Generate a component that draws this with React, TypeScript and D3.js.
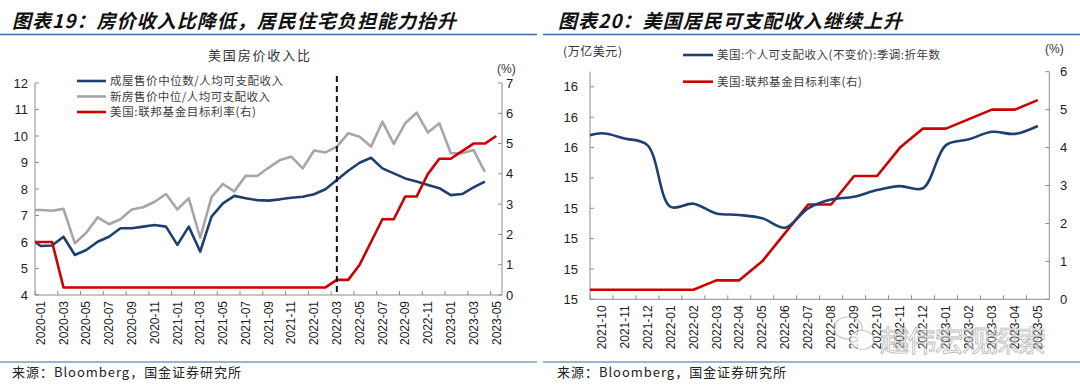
import * as React from 'react';
import * as d3 from 'd3';

const W = 1080;
const H = 385;

// Left chart: monthly 2020-01 .. 2023-05. Index 0 of each series is 2019-12,
// it sits left of the axis and is clipped away like in the source chart.
const leftMonths = d3
  .utcMonth.range(new Date(Date.UTC(2020, 0, 1)), new Date(Date.UTC(2023, 5, 1)))
  .map(d3.utcFormat('%Y-%m'));

const existingRatio = [6.15,
  5.85, 5.87, 6.2, 5.51, 5.70, 6.01, 6.2, 6.52, 6.52, 6.58,
  6.64, 6.58, 5.89, 6.58, 5.64, 6.96, 7.46, 7.74, 7.65, 7.58,
  7.56, 7.61, 7.67, 7.71, 7.80, 7.99, 8.34, 8.69, 8.99, 9.18,
  8.78, 8.59, 8.40, 8.28, 8.15, 8.03, 7.77, 7.81, 8.06, 8.28];

const newRatio = [7.2,
  7.21, 7.18, 7.25, 5.95, 6.35, 6.93, 6.67, 6.86, 7.23, 7.31,
  7.52, 7.81, 7.23, 7.65, 6.16, 7.69, 8.19, 7.91, 8.50, 8.49,
  8.80, 9.09, 9.22, 8.78, 9.45, 9.38, 9.60, 10.10, 9.97, 9.60,
  10.54, 9.70, 10.48, 10.88, 10.13, 10.48, 9.35, 9.35, 9.47, 8.65];

const fedRateLeft = [1.75,
  1.75, 1.75, 0.25, 0.25, 0.25, 0.25, 0.25, 0.25, 0.25, 0.25,
  0.25, 0.25, 0.25, 0.25, 0.25, 0.25, 0.25, 0.25, 0.25, 0.25,
  0.25, 0.25, 0.25, 0.25, 0.25, 0.25, 0.5, 0.5, 1.0, 1.75,
  2.5, 2.5, 3.25, 3.25, 4.0, 4.5, 4.5, 4.75, 5.0, 5.0, 5.25];

const leftTicksL = [4, 5, 6, 7, 8, 9, 10, 11, 12];
const leftTicksR = [0, 1, 2, 3, 4, 5, 6, 7];
const markMonth = '2022-03';

// Right chart: monthly 2021-10 .. 2023-05, index 0 is 2021-09 (clipped).
const rightMonths = d3
  .utcMonth.range(new Date(Date.UTC(2021, 9, 1)), new Date(Date.UTC(2023, 5, 1)))
  .map(d3.utcFormat('%Y-%m'));

const realIncome = [15.53,
  15.547, 15.530, 15.508, 15.305, 15.315, 15.283, 15.278, 15.267, 15.236, 15.300,
  15.329, 15.338, 15.360, 15.373, 15.366, 15.508, 15.527, 15.552, 15.545, 15.571];

const fedRateRight = [0.25,
  0.25, 0.25, 0.25, 0.25, 0.25, 0.5, 0.5, 1.0, 1.75, 2.5,
  2.5, 3.25, 3.25, 4.0, 4.5, 4.5, 4.75, 5.0, 5.0, 5.25];

const rightTicksL = [15.0, 15.1, 15.2, 15.3, 15.4, 15.5, 15.6, 15.7];
const rightTicksR = [0, 1, 2, 3, 4, 5, 6];

const BLUE = '#1f3f6e';
const GRAY = '#a6a6a6';
const RED = '#cc0000';
const AXIS = '#8c8c8c';
const RULE = '#3b6b9b';
const NUM_FONT = "'Liberation Sans', Arial, sans-serif";
const CJK_FONT = "'Noto Sans CJK SC', sans-serif";

const fmt0 = d3.format('.0f');

const LeftChart = () => {
  const x0 = 35, x1 = 502, yTop = 83, yBot = 295;
  const x = d3.scaleLinear().domain([0.5, leftMonths.length + 0.5]).range([x0, x1]);
  const yL = d3.scaleLinear().domain([4, 12]).range([yBot, yTop]);
  const yR = d3.scaleLinear().domain([0, 7]).range([yBot, yTop]);

  const lineL = d3.line<number>().x((_, i) => x(i)).y(v => yL(v));
  const lineR = d3.line<number>().x((_, i) => x(i)).y(v => yR(v));
  const markX = x(leftMonths.indexOf(markMonth) + 1);

  const legend = [
    {label: '成屋售价中位数/人均可支配收入', color: BLUE, w: 173},
    {label: '新房售价中位/人均可支配收入', color: GRAY, w: 160},
    {label: '美国:联邦基金目标利率(右)', color: RED, w: 146},
  ];

  return (
    <g>
      <defs>
        <clipPath id="clip-left">
          <rect x={x0} y={yTop - 20} width={x1 - x0} height={yBot - yTop + 20}/>
        </clipPath>
      </defs>
      <text x={12} y={28} fontFamily={CJK_FONT} fontSize={19} fontWeight={700} fontStyle="italic"
        textLength={444} lengthAdjust="spacing" fill="#111">图表19：房价收入比降低，居民住宅负担能力抬升</text>
      <line x1={0} x2={537} y1={34.5} y2={34.5} stroke={RULE} strokeWidth={1.5}/>
      <text x={208} y={60} fontFamily={CJK_FONT} fontSize={13} textLength={102} lengthAdjust="spacing"
        fill="#333">美国房价收入比</text>
      <text x={497} y={73} fontFamily={NUM_FONT} fontSize={12} fill="#333">(%)</text>

      {/* axes */}
      <line x1={x0} x2={x0} y1={yTop} y2={yBot} stroke={AXIS}/>
      <line x1={x1} x2={x1} y1={yTop} y2={yBot} stroke={AXIS}/>
      <line x1={x0} x2={x1} y1={yBot} y2={yBot} stroke={AXIS}/>
      {leftTicksL.map(t => (
        <g key={'l' + t}>
          <line x1={x0} x2={x0 + 4} y1={yL(t)} y2={yL(t)} stroke={AXIS}/>
          <text x={28} y={yL(t)} dy="0.35em" textAnchor="end" fontFamily={NUM_FONT} fontSize={13}
            fill="#222">{t}</text>
        </g>
      ))}
      {leftTicksR.map(t => (
        <g key={'r' + t}>
          <line x1={x1 - 4} x2={x1} y1={yR(t)} y2={yR(t)} stroke={AXIS}/>
          <text x={506} y={yR(t)} dy="0.35em" fontFamily={NUM_FONT} fontSize={13} fill="#222">{t}</text>
        </g>
      ))}
      {leftMonths.map((m, i) => i % 2 === 0 ? (
        <g key={m}>
          <line x1={x(i + 0.5)} x2={x(i + 0.5)} y1={yBot} y2={yBot - 4} stroke={AXIS}/>
          <text transform={`translate(${x(i + 1)},${yBot + 6}) rotate(-90)`} dy="0.35em" textAnchor="end"
            fontFamily={NUM_FONT} fontSize={12} fill="#222">{m}</text>
        </g>
      ) : null)}

      <g clipPath="url(#clip-left)" fill="none" strokeWidth={2.6} strokeLinejoin="round">
        <path d={lineL(newRatio) || ''} stroke={GRAY}/>
        <path d={lineL(existingRatio) || ''} stroke={BLUE}/>
        <path d={lineR(fedRateLeft) || ''} stroke={RED}/>
      </g>
      <line x1={markX} x2={markX} y1={76} y2={yBot} stroke="#111" strokeWidth={2} strokeDasharray="6,4"/>

      {legend.map((d, i) => (
        <g key={d.label} transform={`translate(77,${81 + i * 15.5})`}>
          <line x1={0} x2={29} stroke={d.color} strokeWidth={2.6}/>
          <text x={33} dy="0.35em" fontFamily={CJK_FONT} fontSize={11.5} textLength={d.w}
            lengthAdjust="spacing" fill="#404040">{d.label}</text>
        </g>
      ))}

      <line x1={0} x2={537} y1={362} y2={362} stroke={RULE} strokeWidth={1.2}/>
      <text x={12} y={377} fontFamily={CJK_FONT} fontSize={13} textLength={229} lengthAdjust="spacing"
        fill="#222">来源：Bloomberg，国金证券研究所</text>
    </g>
  );
};

const RightChart = () => {
  const x0 = 590, x1 = 1049.3, yTop = 71.7, yBot = 299.3;
  const x = d3.scaleLinear().domain([0.5, rightMonths.length + 0.5]).range([x0, x1]);
  const yL = d3.scaleLinear().domain([15.0, 15.75]).range([yBot, yTop]);
  const yR = d3.scaleLinear().domain([0, 6]).range([yBot, yTop]);

  const lineL = d3.line<number>().x((_, i) => x(i)).y(v => yL(v)).curve(d3.curveCatmullRom.alpha(0.5));
  const lineR = d3.line<number>().x((_, i) => x(i)).y(v => yR(v));

  const legend = [
    {label: '美国:个人可支配收入(不变价):季调:折年数', color: BLUE, w: 223},
    {label: '美国:联邦基金目标利率(右)', color: RED, w: 145},
  ];

  return (
    <g>
      <defs>
        <clipPath id="clip-right">
          <rect x={x0} y={yTop - 10} width={x1 - x0} height={yBot - yTop + 10}/>
        </clipPath>
      </defs>
      <text x={558} y={28} fontFamily={CJK_FONT} fontSize={19} fontWeight={700} fontStyle="italic"
        textLength={344} lengthAdjust="spacing" fill="#111">图表20：美国居民可支配收入继续上升</text>
      <line x1={543} x2={W} y1={34.5} y2={34.5} stroke={RULE} strokeWidth={1.5}/>
      <text x={563} y={56} fontFamily={CJK_FONT} fontSize={12} textLength={59} lengthAdjust="spacing"
        fill="#333">(万亿美元)</text>
      <text x={1045} y={52.5} fontFamily={NUM_FONT} fontSize={12} fill="#333">(%)</text>

      <line x1={x0} x2={x0} y1={yTop} y2={yBot} stroke={AXIS}/>
      <line x1={x1} x2={x1} y1={yTop} y2={yBot} stroke={AXIS}/>
      <line x1={x0} x2={x1} y1={yBot} y2={yBot} stroke={AXIS}/>
      {rightTicksL.map(t => (
        <g key={'l' + t}>
          <line x1={x0} x2={x0 + 4} y1={yL(t)} y2={yL(t)} stroke={AXIS}/>
          <text x={578} y={yL(t)} dy="0.35em" textAnchor="end" fontFamily={NUM_FONT} fontSize={13}
            fill="#222">{fmt0(t)}</text>
        </g>
      ))}
      {rightTicksR.map(t => (
        <g key={'r' + t}>
          <line x1={x1 - 4} x2={x1} y1={yR(t)} y2={yR(t)} stroke={AXIS}/>
          <text x={1060} y={yR(t)} dy="0.35em" fontFamily={NUM_FONT} fontSize={13} fill="#222">{t}</text>
        </g>
      ))}
      {rightMonths.map((m, i) => (
        <g key={m}>
          <line x1={x(i + 0.5)} x2={x(i + 0.5)} y1={yBot} y2={yBot - 4} stroke={AXIS}/>
          <text transform={`translate(${x(i + 1)},${yBot + 6}) rotate(-90)`} dy="0.35em" textAnchor="end"
            fontFamily={NUM_FONT} fontSize={12} fill="#222">{m}</text>
        </g>
      ))}

      <g clipPath="url(#clip-right)" fill="none" strokeWidth={2.6} strokeLinejoin="round">
        <path d={lineR(fedRateRight) || ''} stroke={RED}/>
        <path d={lineL(realIncome) || ''} stroke={BLUE}/>
      </g>

      {legend.map((d, i) => (
        <g key={d.label} transform={`translate(683,${55 + i * 26.7})`}>
          <line x1={0} x2={30} stroke={d.color} strokeWidth={2.6}/>
          <text x={34} dy="0.35em" fontFamily={CJK_FONT} fontSize={11.5} textLength={d.w}
            lengthAdjust="spacing" fill="#404040">{d.label}</text>
        </g>
      ))}

      {/* watermark */}
      <g opacity={0.75}>
        <ellipse cx={848} cy={328} rx={14} ry={11} fill="none" stroke="#b5b5b5" strokeWidth={1.2}/>
        <ellipse cx={862} cy={340} rx={12} ry={9.5} fill="#fff" stroke="#b5b5b5" strokeWidth={1.2}/>
        <text x={880} y={352} fontFamily={CJK_FONT} fontSize={29} textLength={166} lengthAdjust="spacing"
          fill="#ffffff" fillOpacity={0.6} stroke="#a8a8a8" strokeWidth={0.9}>越伟宏观探索</text>
      </g>

      <line x1={543} x2={W} y1={362} y2={362} stroke={RULE} strokeWidth={1.2}/>
      <text x={557} y={377} fontFamily={CJK_FONT} fontSize={13} textLength={229} lengthAdjust="spacing"
        fill="#222">来源：Bloomberg，国金证券研究所</text>
    </g>
  );
};

export default function App() {
  return (
    <svg width={W} height={H} viewBox={`0 0 ${W} ${H}`}
      style={{position: 'absolute', left: 0, top: 0, background: '#fff'}}>
      <rect width={W} height={H} fill="#fff"/>
      <LeftChart/>
      <RightChart/>
    </svg>
  );
}
